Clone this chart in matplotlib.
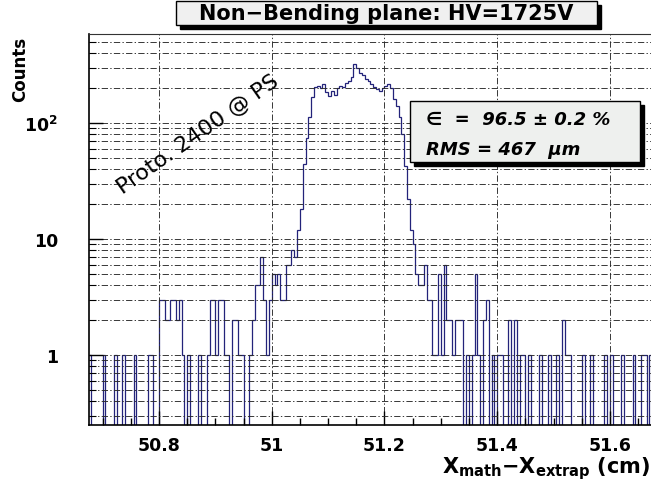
import numpy as np
import matplotlib.pyplot as plt
from matplotlib.patches import Rectangle
from matplotlib.ticker import FixedLocator, FixedFormatter, MultipleLocator, NullFormatter

plt.rcParams['font.family'] = ['DejaVu Sans']
plt.rcParams['mathtext.fontset'] = 'dejavusans'

# histogram: 200 bins of 0.005 cm starting at 50.675 cm
x_start = 50.675
bin_width = 0.005
counts = [
    1, 0, 0, 0, 0, 1, 0, 0, 0, 1,
    0, 0, 1, 0, 0, 0, 1, 0, 0, 0,
    0, 1, 1, 0, 0, 3, 3, 2, 2, 3,
    3, 2, 3, 1, 0, 1, 0, 0, 0, 1,
    0, 0, 1, 3, 3, 1, 3, 3, 1, 1,
    0, 2, 2, 1, 1, 0, 0, 1, 2, 4,
    4, 7, 3, 1, 3, 5, 4, 5, 3, 3,
    6, 6, 8, 7, 12, 18, 44, 75, 113, 168,
    205, 210, 200, 215, 185, 170, 190, 175, 200, 210,
    205, 220, 230, 250, 320, 300, 270, 260, 240, 230,
    215, 205, 195, 190, 200, 210, 215, 200, 160, 140,
    112, 80, 43, 22, 12, 9, 5, 4, 4, 6,
    3, 3, 1, 1, 5, 1, 6, 2, 2, 1,
    2, 2, 2, 0, 1, 0, 1, 5, 1, 0,
    2, 3, 0, 1, 0, 1, 1, 0, 0, 2,
    0, 2, 0, 1, 1, 0, 1, 0, 0, 0,
    1, 0, 0, 1, 0, 0, 1, 0, 2, 1,
    1, 0, 0, 0, 0, 1, 0, 0, 1, 0,
    0, 0, 0, 1, 0, 1, 0, 0, 0, 1,
    0, 0, 0, 1, 0, 0, 1, 1, 0, 1,
]
x_ticks = [50.8, 51.0, 51.2, 51.4, 51.6]
x_tick_labels = ["50.8", "51", "51.2", "51.4", "51.6"]
y_ticks = [1, 10, 100]
y_tick_labels = ["1", "10", r"$\mathbf{10^{2}}$"]

title = "Non\u2212Bending plane: HV=1725V"
eff_text = "\u2208  =  96.5 \u00b1 0.2 %"
rms_text = "RMS = 467  \u03bcm"
proto_text = "Proto. 2400 @ PS"

W, H = 651, 481
def fx(px):
    return px / W
def fy(py):
    return 1 - py / H

fig = plt.figure(figsize=(W / 100, H / 100), dpi=100)
ax = fig.add_axes([fx(88.5), fy(426), fx(651) - fx(88.5), fy(35) - fy(426)])

edges = x_start + bin_width * np.arange(len(counts) + 1)
vals = np.array(counts, dtype=float)
vals_draw = np.where(vals > 0, vals, 1e-3)  # empty bins drop to the bottom on log scale
ax.stairs(vals_draw, edges, baseline=None, color="#23237a", lw=0.9)

ax.set_yscale("log")
ax.set_xlim(x_start, x_start + (651 - 88.5) / 563.75)
ax.set_ylim(0.25, 585)

grid_kw = dict(color="#2a2a2a", lw=0.65, linestyle=(0, (7, 2.5, 1.5, 2.5)))
ax.xaxis.set_major_locator(FixedLocator(x_ticks))
ax.xaxis.set_major_formatter(FixedFormatter(x_tick_labels))
ax.xaxis.set_minor_locator(MultipleLocator(0.05))
ax.yaxis.set_major_locator(FixedLocator(y_ticks))
ax.yaxis.set_major_formatter(FixedFormatter(y_tick_labels))
minor_y = [m * 10.0 ** e for e in range(-1, 3) for m in range(2, 10)]
ax.yaxis.set_minor_locator(FixedLocator(minor_y))
ax.yaxis.set_minor_formatter(NullFormatter())
ax.grid(True, which="major", axis="x", **grid_kw)
ax.grid(True, which="both", axis="y", **grid_kw)

ax.tick_params(axis="x", which="major", direction="in", length=10, width=1, pad=8,
               labelsize=12.5)
ax.tick_params(axis="x", which="minor", direction="in", length=5, width=1)
ax.tick_params(axis="y", which="major", direction="in", length=10, width=1, pad=22,
               labelsize=12.5)
ax.tick_params(axis="y", which="minor", direction="in", length=5, width=0.8)
for lab in ax.get_xticklabels() + ax.get_yticklabels():
    lab.set_fontweight("bold")

ax.spines["right"].set_visible(False)
ax.spines["top"].set_color("#333333")
for s in ["left", "bottom"]:
    ax.spines[s].set_linewidth(1.2)

# axis titles
fig.text(fx(20), fy(37), "Counts", rotation=90, ha="center", va="top",
         fontsize=12, fontweight="bold")
fig.text(fx(650), fy(473), r"$\mathbf{X_{math}}$" + "\u2212" + r"$\mathbf{X_{extrap}}$" + " (cm)",
         ha="right", va="baseline", fontsize=15, fontweight="bold")

# title box with shadow
fig.patches.append(Rectangle((fx(180), fy(30)), fx(597) - fx(176), fy(2) - fy(26),
                             transform=fig.transFigure, color="black", zorder=5))
fig.patches.append(Rectangle((fx(176), fy(26)), fx(597) - fx(176), fy(2) - fy(26),
                             transform=fig.transFigure, facecolor="#f0f0f0",
                             edgecolor="black", lw=1, zorder=6))
fig.text(fx(386), fy(14.5), title, ha="center", va="center", fontsize=15,
         fontweight="bold", zorder=7)

# statistics box with shadow
fig.patches.append(Rectangle((fx(414), fy(167)), fx(640) - fx(410), fy(102) - fy(163),
                             transform=fig.transFigure, color="black", zorder=5))
fig.patches.append(Rectangle((fx(410), fy(163)), fx(640) - fx(410), fy(102) - fy(163),
                             transform=fig.transFigure, facecolor="#eef0ee",
                             edgecolor="black", lw=1, zorder=6))
fig.text(fx(426), fy(120), eff_text, ha="left", va="center", fontsize=13,
         fontweight="bold", style="italic", zorder=7)
fig.text(fx(426), fy(150), rms_text, ha="left", va="center", fontsize=13,
         fontweight="bold", style="italic", zorder=7)

ax.text(0.195, 0.745, proto_text, transform=ax.transAxes, rotation=35,
        ha="center", va="center", fontsize=16)

plt.savefig("out.png", dpi=100)
